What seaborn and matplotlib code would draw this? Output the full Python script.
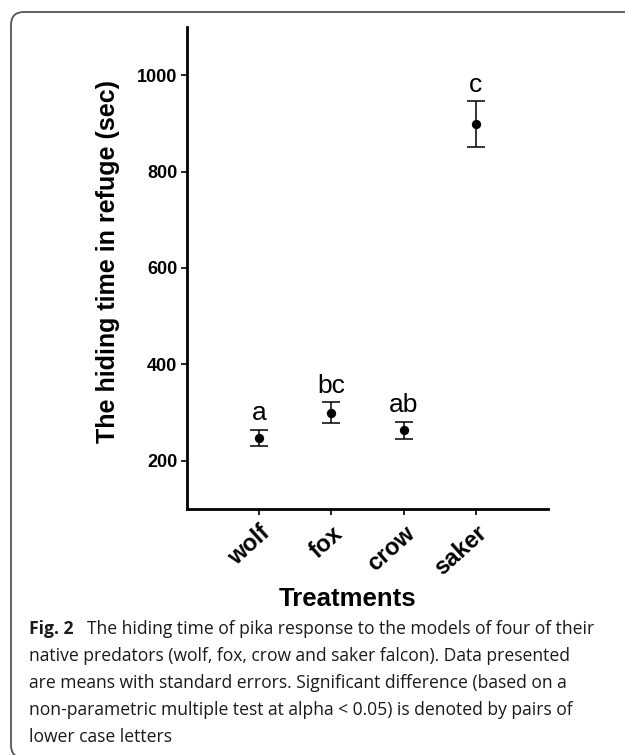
import pandas as pd
import seaborn as sns
import matplotlib.pyplot as plt
from matplotlib.patches import FancyBboxPatch

# data
treatments = ["wolf", "fox", "crow", "saker"]
means = [247, 300, 263, 899]
se = [17, 21, 18, 47]
letters = ["a", "bc", "ab", "c"]

caption_head = "Fig. 2"
caption_lines = ["The hiding time of pika response to the models of four of their",
                 "native predators (wolf, fox, crow and saker falcon). Data presented",
                 "are means with standard errors. Significant difference (based on a",
                 "non-parametric multiple test at alpha < 0.05) is denoted by pairs of",
                 "lower case letters"]

df = pd.DataFrame({"treatment": treatments, "mean": means, "se": se})

sns.set_theme(style="ticks")
plt.rcParams['font.family'] = ['Liberation Sans', 'DejaVu Sans']
plt.rcParams['text.color'] = 'black'
plt.rcParams['axes.labelcolor'] = 'black'
plt.rcParams['xtick.color'] = 'black'
plt.rcParams['ytick.color'] = 'black'

W, H = 625, 755
fig = plt.figure(figsize=(W / 100, H / 100), dpi=100)
ax = fig.add_axes([187 / W, 1 - 509 / H, 361 / W, 482 / H])

# points + standard error bars
sns.scatterplot(data=df, x="treatment", y="mean", color="black", s=45,
                edgecolor="black", linewidth=0, ax=ax, zorder=3)
ax.errorbar(df["treatment"], df["mean"], yerr=df["se"], fmt="none",
            ecolor="black", elinewidth=1.1, capsize=6.5, capthick=1.1)

# significance letters
for t, m, e, l in zip(df["treatment"], df["mean"], df["se"], letters):
    ax.annotate(l, (t, m + e), xytext=(0, 7), textcoords="offset points",
                ha="center", va="baseline", fontsize=19)

ax.set_xlim(-1, 4)
ax.set_ylim(100, 1100)
ax.set_yticks([200, 400, 600, 800, 1000])
sns.despine(ax=ax)
for s in ["left", "bottom"]:
    ax.spines[s].set_linewidth(2)
    ax.spines[s].set_color("black")
ax.tick_params(axis="both", direction="out", length=4, width=1.2, color="black")
ax.tick_params(axis="y", labelsize=13, pad=3)
ax.tick_params(axis="x", labelsize=17, pad=5)
for lab in ax.get_yticklabels():
    lab.set_fontweight("bold")
for lab in ax.get_xticklabels():
    lab.set_fontweight("bold")
    lab.set_rotation(42)
    lab.set_ha("right")
    lab.set_rotation_mode("anchor")

ax.set_xlabel("Treatments", fontsize=18.5, fontweight="bold")
ax.xaxis.set_label_coords(0.446, -0.162)
ax.set_ylabel("The hiding time in refuge (sec)", fontsize=18, fontweight="bold")
ax.yaxis.set_label_coords(-0.186, 0.513)

# caption: pick a size whose line widths best match the original (px)
cap_family = ['Open Sans', 'DejaVu Sans']
target_w = [529, 516, 535, 545]
renderer = fig.canvas.get_renderer()
measured = []
for line in caption_lines[:4]:
    probe = fig.text(0, 0, line, fontsize=12, family=cap_family)
    measured.append(probe.get_window_extent(renderer).width)
    probe.remove()
k = sum(t * m for t, m in zip(target_w, measured)) / sum(m * m for m in measured)
cap_size = 12 * k

baselines = [634, 661, 688, 715, 742]
fig.text(29 / W, 1 - baselines[0] / H, caption_head, fontsize=cap_size, fontweight="bold",
         family=cap_family, va="baseline", ha="left", color="#1a1a1a")
fig.text(87 / W, 1 - baselines[0] / H, caption_lines[0], fontsize=cap_size,
         family=cap_family, va="baseline", ha="left", color="#1a1a1a")
for line, b in zip(caption_lines[1:], baselines[1:]):
    fig.text(29 / W, 1 - b / H, line, fontsize=cap_size, family=cap_family,
             va="baseline", ha="left", color="#1a1a1a")

# rounded frame around the figure
box = FancyBboxPatch((0.11, -0.03), 6.5, 7.46,
                     boxstyle="round,pad=0,rounding_size=0.13",
                     transform=fig.dpi_scale_trans, fill=False,
                     edgecolor="#555555", linewidth=1.3)
fig.patches.append(box)

fig.savefig("out.png", dpi=100)
